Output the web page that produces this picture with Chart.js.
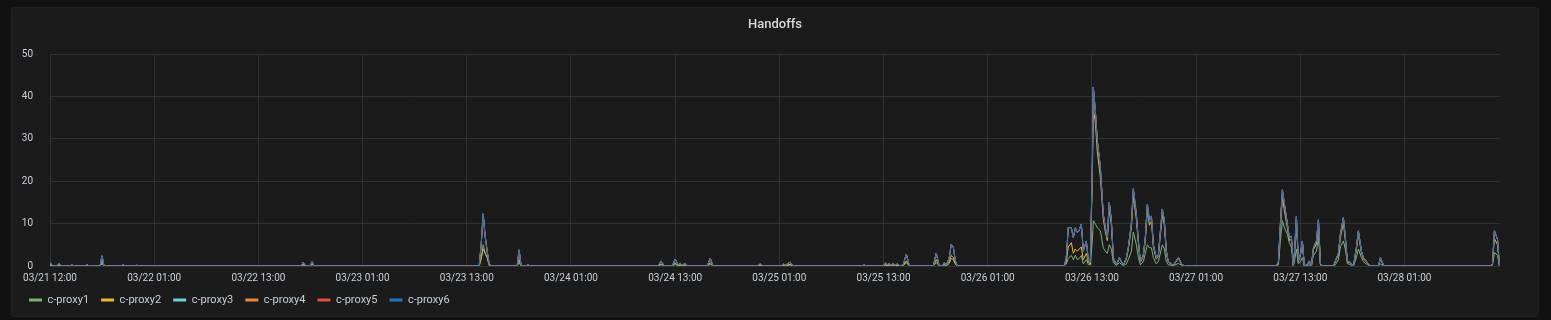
<!DOCTYPE html>
<html><head><meta charset="utf-8">
<script src="https://cdn.jsdelivr.net/npm/chart.js@4.4.1/dist/chart.umd.min.js"></script>
<style>
html,body{margin:0;padding:0;background:#111111;width:1551px;height:320px;overflow:hidden;}
#panel{position:absolute;left:12px;top:8px;width:1526px;height:308px;background:#1b1b1b;border-radius:3px;box-shadow:0 0 0 1px #202122;}
#title{position:absolute;left:0;right:0;top:8px;text-align:center;font:500 13px Roboto, sans-serif;color:#d8d9da;line-height:16px;z-index:2;}
#wrap{position:absolute;left:0;top:0;width:1526px;height:308px;}
</style></head>
<body>
<div id="panel"><div id="title">Handoffs</div><div id="wrap"><canvas id="c" width="1526" height="308"></canvas></div></div>
<script>
// time axis: hours since the left edge of the graph
const hours = [
  0,0.35,0.8,1.04,1.27,2.3,2.53,2.77,4.03,4.26,4.49,5.76,5.99,6.22,8.18,8.41,8.64,9.79,10.02,10.25,28.92,29.15,29.49,29.95,30.19,30.42,
  49.43,49.66,49.89,50.12,50.35,50.58,50.81,53.8,54.03,54.26,54.84,55.07,55.3,70.05,70.39,70.74,71.66,72.01,72.35,72.58,72.81,73.16,73.39,75.69,76.04,76.38,
  81.45,81.8,82.14,84.22,84.45,84.68,85.25,85.6,93.55,93.78,94.01,95.97,96.2,96.43,96.66,96.89,97.12,97.35,97.58,97.93,98.27,98.62,98.96,99.19,101.73,102.07,102.42,102.77,103,103.23,103.57,103.8,104.03,104.27,104.5,
  116.82,117.05,117.28,117.63,117.86,118.09,118.32,118.55,118.78,119.01,119.36,119.59,119.82,120.05,120.16,120.39,120.62,120.97,121.31,121.54,121.77,122,122.24,122.47,122.81,123.16,123.62,123.96,124.19,124.54,124.77,125.12,125.35,125.58,125.92,126.15,126.39,126.62,126.85,127.08,127.42,127.65,128.11,128.34,128.57,128.8,129.38,129.96,130.41,130.99,
  141.25,141.48,141.71,141.94,142.17,142.51,142.74,142.97,143.2,143.32,143.55,143.78,144.01,144.24,144.47,144.82,145.05,145.28,145.51,145.86,146.09,146.32,146.55,147.81,148.04,148.39,148.62,148.96,149.19,149.42,149.77,150.12,150.46,150.69,151.04,151.27,151.73,152.07,153,153.23,153.61,165.9,166.13,166.36,166.71,166.94,167
];
const proxy1 = [
  0.2,0,0,0.2,0,0,0.1,0,0,0.1,0,0,0.5,0,0,0.1,0,0,0,0,0,0.2,0,0,0.3,0,
  0,1.5,5,3,2,0.2,0,0,0.8,0,0,0.1,0,0,0.3,0,0,0.4,0.1,0.1,0,0.1,0,0,0.4,0,
  0,0.1,0,0,0.1,0,0.2,0,0,0.1,0,0,0.2,0.1,0.1,0,0.1,0,0.1,0,0.1,0.8,0,0,0,0.8,0,0,0.2,0,0.6,1.8,1.5,0.4,0,
  0,0.5,1.8,2.5,1.5,2.5,1.5,1.8,2.5,0.5,1.5,0.3,0.3,6,10.7,10,9,8.3,4.3,3.5,3,5,4,0.8,0.1,0.8,0.1,0.5,1.5,3.4,8,5,2,0.3,1,3,5,4.3,4.3,2,0.5,1,5,4,1,0.3,0.1,0.6,0.1,0,
  0,0.3,6,10.7,9,7.5,5.5,4.5,0,1,4,0.5,1,2,0,0.1,0.3,0,2.5,3.5,6.7,0.2,0,0,0.3,1.5,4.5,5.9,4,0.6,0.3,0,2,4,2,1,0.3,0,0,0.5,0,0,0.2,3.2,2.5,0,0
];
const proxy2 = [
  0.3,0,0,0.3,0,0,0.1,0,0,0.2,0,0,1.0,0,0,0.2,0,0,0.1,0,0,0.4,0,0,0.5,0,
  0,2,4,3,2,0.2,0,0,1.5,0,0,0.1,0,0,0.5,0,0,0.7,0.1,0.3,0.1,0.3,0,0,0.8,0,
  0,0.2,0,0,0.2,0.1,0.4,0,0,0.1,0,0,0.3,0.1,0.3,0.1,0.3,0.1,0.2,0,0.1,1.2,0.1,0,0,1.5,0,0,0.4,0.1,1,2.5,2,0.6,0,
  0,1,4.5,5.5,3,4,3.5,4,4.5,1.5,3,0.8,0.5,21,37,34,27,21,11,8.2,6,13.5,9.6,1.8,0.2,1.8,0.2,1.6,3.9,8.9,16.4,11,5.3,0.9,2.3,6,13.1,9.6,10.6,4.5,1.6,2.3,12,9.6,3.1,0.9,0.1,1.8,0.1,0,
  0,0.8,9,16,13,9,6,6.3,0,2.6,10,1,2.4,5.2,0,0.3,1,0,3.8,5.2,9.8,0.4,0,0,1,2.6,6.7,10.2,6,1,0.7,0,3.8,7.4,3.1,1.7,0.7,0,0,1.7,0,0,0.4,6.5,5,0,0
];
const proxy3 = [
  0.8,0,0,0.7,0,0,0.3,0,0,0.4,0,0,2.4,0,0,0.4,0,0,0.2,0,0,0.8,0,0,1.0,0,
  0,5,12.3,7,3.5,0.5,0,0,3.8,0,0,0.3,0,0,1.2,0,0,1.6,0.3,0.6,0.2,0.6,0,0,1.8,0,
  0,0.5,0,0,0.5,0.2,0.9,0,0,0.3,0,0,0.7,0.3,0.6,0.2,0.6,0.2,0.5,0,0.3,2.8,0.2,0,0,3.0,0,0,0.8,0.2,2,5.1,4.5,1.2,0,
  0,2,9.1,9,6.7,9,7.9,8.5,9.9,3.5,5.9,1.3,0.9,24,42.2,36.7,29.6,23.3,12.2,9.1,6.7,15,10.7,2,0.2,2,0.2,1.8,4.3,9.9,18.2,12.2,5.9,1,2.6,6.7,14.6,10.7,11.8,5,1.8,2.6,13.4,10.7,3.5,1,0.2,2,0.2,0,
  0,1,10,18,14.6,9.9,6.7,7,0,3,11.7,1.2,2.8,5.9,0,0.4,1.2,0,4.3,5.9,11,0.5,0,0,1.2,3,7.5,11.4,6.7,1.2,0.8,0,4.3,8.3,3.5,2,0.8,0,0,2,0,0,0.5,8.3,6.3,0,0
];
const proxy4 = [
  0.8,0,0,0.7,0,0,0.3,0,0,0.4,0,0,2.4,0,0,0.4,0,0,0.2,0,0,0.8,0,0,1.0,0,
  0,5,12.3,7,3.5,0.5,0,0,3.8,0,0,0.3,0,0,1.2,0,0,1.6,0.3,0.6,0.2,0.6,0,0,1.8,0,
  0,0.5,0,0,0.5,0.2,0.9,0,0,0.3,0,0,0.7,0.3,0.6,0.2,0.6,0.2,0.5,0,0.3,2.8,0.2,0,0,3.0,0,0,0.8,0.2,2,5.1,4.5,1.2,0,
  0,2,9.1,9,6.7,9,7.9,8.5,9.9,3.5,5.9,1.3,0.9,24,42.2,36.7,29.6,23.3,12.2,9.1,6.7,15,10.7,2,0.2,2,0.2,1.8,4.3,9.9,18.2,12.2,5.9,1,2.6,6.7,14.6,10.7,11.8,5,1.8,2.6,13.4,10.7,3.5,1,0.2,2,0.2,0,
  0,1,10,18,14.6,9.9,6.7,7,0,3,11.7,1.2,2.8,5.9,0,0.4,1.2,0,4.3,5.9,11,0.5,0,0,1.2,3,7.5,11.4,6.7,1.2,0.8,0,4.3,8.3,3.5,2,0.8,0,0,2,0,0,0.5,8.3,6.3,0,0
];
const proxy5 = [
  0.8,0,0,0.7,0,0,0.3,0,0,0.4,0,0,2.4,0,0,0.4,0,0,0.2,0,0,0.8,0,0,1.0,0,
  0,5,12.3,7,3.5,0.5,0,0,3.8,0,0,0.3,0,0,1.2,0,0,1.6,0.3,0.6,0.2,0.6,0,0,1.8,0,
  0,0.5,0,0,0.5,0.2,0.9,0,0,0.3,0,0,0.7,0.3,0.6,0.2,0.6,0.2,0.5,0,0.3,2.8,0.2,0,0,3.0,0,0,0.8,0.2,2,5.1,4.5,1.2,0,
  0,2,9.1,9,6.7,9,7.9,8.5,9.9,3.5,5.9,1.3,0.9,24,42.2,36.7,29.6,23.3,12.2,9.1,6.7,15,10.7,2,0.2,2,0.2,1.8,4.3,9.9,18.2,12.2,5.9,1,2.6,6.7,14.6,10.7,11.8,5,1.8,2.6,13.4,10.7,3.5,1,0.2,2,0.2,0,
  0,1,10,18,14.6,9.9,6.7,7,0,3,11.7,1.2,2.8,5.9,0,0.4,1.2,0,4.3,5.9,11,0.5,0,0,1.2,3,7.5,11.4,6.7,1.2,0.8,0,4.3,8.3,3.5,2,0.8,0,0,2,0,0,0.5,8.3,6.3,0,0
];
const proxy6 = [
  0.8,0,0,0.7,0,0,0.3,0,0,0.4,0,0,2.4,0,0,0.4,0,0,0.2,0,0,0.8,0,0,1.0,0,
  0,5,12.3,7,3.5,0.5,0,0,3.8,0,0,0.3,0,0,1.2,0,0,1.6,0.3,0.6,0.2,0.6,0,0,1.8,0,
  0,0.5,0,0,0.5,0.2,0.9,0,0,0.3,0,0,0.7,0.3,0.6,0.2,0.6,0.2,0.5,0,0.3,2.8,0.2,0,0,3.0,0,0,0.8,0.2,2,5.1,4.5,1.2,0,
  0,2,9.1,9,6.7,9,7.9,8.5,9.9,3.5,5.9,1.3,0.9,24,42.2,36.7,29.6,23.3,12.2,9.1,6.7,15,10.7,2,0.2,2,0.2,1.8,4.3,9.9,18.2,12.2,5.9,1,2.6,6.7,14.6,10.7,11.8,5,1.8,2.6,13.4,10.7,3.5,1,0.2,2,0.2,0,
  0,1,10,18,14.6,9.9,6.7,7,0,3,11.7,1.2,2.8,5.9,0,0.4,1.2,0,4.3,5.9,11,0.5,0,0,1.2,3,7.5,11.4,6.7,1.2,0.8,0,4.3,8.3,3.5,2,0.8,0,0,2,0,0,0.5,8.3,6.3,0,0
];
const seriesNames = ['c-proxy1','c-proxy2','c-proxy3','c-proxy4','c-proxy5','c-proxy6'];
const seriesColors = ['#7EB26D','#EAB839','#6ED0E0','#EF843C','#E24D42','#1F78C1'];
const tickHours = [0,12,24,36,48,60,72,84,96,108,120,132,144,156];
const tickLabels = ['03/21 12:00','03/22 01:00','03/22 13:00','03/23 01:00','03/23 13:00','03/24 01:00','03/24 13:00','03/25 01:00','03/25 13:00','03/26 01:00','03/26 13:00','03/27 01:00','03/27 13:00','03/28 01:00'];
const yTicks = [0,10,20,30,40,50];

const allSeries = [proxy1, proxy2, proxy3, proxy4, proxy5, proxy6];
const datasets = allSeries.map((vals, i) => ({
  label: seriesNames[i],
  data: hours.map((h, j) => ({x: h, y: vals[j]})),
  borderColor: seriesColors[i],
  backgroundColor: seriesColors[i],
  borderWidth: 1,
  pointRadius: 0,
  fill: false,
  tension: 0,
  order: 6 - i
}));

const textColor = '#c7d0d9';
const gridColor = '#2c3235';

new Chart(document.getElementById('c'), {
  type: 'line',
  data: { datasets },
  options: {
    responsive: false,
    animation: false,
    devicePixelRatio: 1,
    layout: { padding: { left: 5, right: 38, top: 46, bottom: 0.5 } },
    plugins: {
      title: { display: false },
      tooltip: { enabled: false },
      legend: {
        display: true,
        position: 'bottom',
        align: 'start',
        labels: {
          color: textColor,
          font: { family: 'Roboto', size: 11 },
          boxWidth: 13,
          boxHeight: 3,
          padding: 12,
          generateLabels: (chart) => chart.data.datasets.map((ds, i) => ({
            text: ds.label,
            fillStyle: ds.borderColor,
            strokeStyle: ds.borderColor,
            lineWidth: 0,
            fontColor: textColor,
            hidden: false,
            datasetIndex: i
          }))
        }
      }
    },
    scales: {
      x: {
        type: 'linear',
        min: 0,
        max: 167,
        afterBuildTicks: (scale) => { scale.ticks = tickHours.map(v => ({ value: v })); },
        afterFit: (scale) => { scale.height = 16.5; },
        ticks: {
          color: textColor,
          font: { family: 'Roboto', size: 10 },
          padding: 6,
          maxRotation: 0,
          autoSkip: false,
          callback: (value) => { const k = tickHours.indexOf(value); return k >= 0 ? tickLabels[k] : ''; }
        },
        grid: { color: gridColor, drawTicks: false, lineWidth: 1 },
        border: { display: false }
      },
      y: {
        type: 'linear',
        min: 0,
        max: 50,
        afterBuildTicks: (scale) => { scale.ticks = yTicks.map(v => ({ value: v })); },
        afterFit: (scale) => { scale.width = 33; },
        ticks: {
          color: textColor,
          font: { family: 'Roboto', size: 10 },
          padding: 17
        },
        grid: { color: gridColor, drawTicks: false, lineWidth: 1 },
        border: { display: false }
      }
    }
  }
});
</script>
</body></html>
